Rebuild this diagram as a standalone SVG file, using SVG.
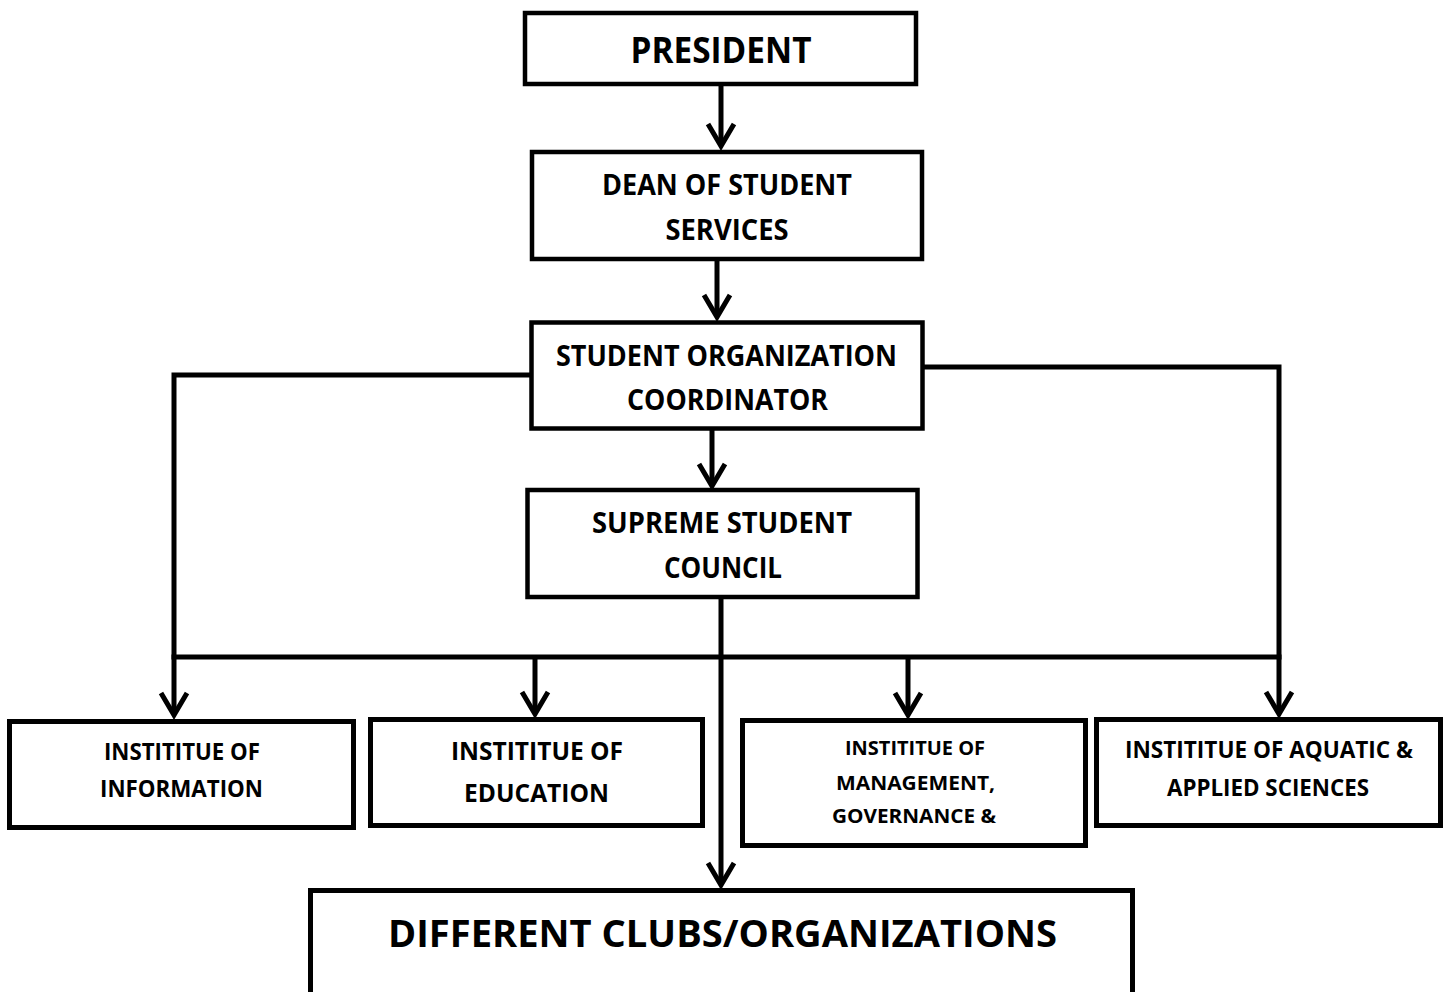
<svg xmlns="http://www.w3.org/2000/svg" width="1448" height="992" viewBox="0 0 1448 992">
<style>
.box{fill:#fff;stroke:#000;stroke-width:4.5}
.ibox{fill:#fff;stroke:#000;stroke-width:5}
.ln{fill:none;stroke:#000;stroke-width:5}
text{font-family:"Open Sans",Lato,"Liberation Sans",sans-serif;font-weight:bold;fill:#000;text-anchor:middle}
</style>
<defs>
<marker id="arr" markerUnits="userSpaceOnUse" orient="auto" refX="0" refY="0" markerWidth="40" markerHeight="40" overflow="visible">
<path d="M-22,-13 L0,0 L-22,13" fill="none" stroke="#000" stroke-width="5" stroke-linejoin="miter"/>
</marker>
</defs>
<rect width="1448" height="992" fill="#fff"/>
<g id="connectors">
<path class="ln" d="M721,86 V146" marker-end="url(#arr)"/>
<path class="ln" d="M717,261 V317" marker-end="url(#arr)"/>
<path class="ln" d="M712,430 V486" marker-end="url(#arr)"/>
<path class="ln" d="M531,375 H174 V715" marker-end="url(#arr)"/>
<path class="ln" d="M923,367 H1279 V714" marker-end="url(#arr)"/>
<path class="ln" d="M171.5,657 H1281.5"/>
<path class="ln" d="M535,657 V714" marker-end="url(#arr)"/>
<path class="ln" d="M908,657 V715" marker-end="url(#arr)"/>
<path class="ln" d="M721,597 V885" marker-end="url(#arr)"/>
</g>
<g id="president">
<rect class="box" x="525" y="13" width="391" height="71"/>
<text x="721" y="63" font-size="36" textLength="181" lengthAdjust="spacingAndGlyphs">PRESIDENT</text>
</g>
<g id="dean">
<rect class="box" x="532" y="152" width="390" height="107"/>
<text x="727" y="195" font-size="28" textLength="250" lengthAdjust="spacingAndGlyphs">DEAN OF STUDENT</text>
<text x="727" y="240" font-size="28" textLength="123" lengthAdjust="spacingAndGlyphs">SERVICES</text>
</g>
<g id="coordinator">
<rect class="box" x="531.5" y="322.5" width="391" height="106"/>
<text x="726.5" y="366" font-size="28" textLength="341" lengthAdjust="spacingAndGlyphs">STUDENT ORGANIZATION</text>
<text x="727.5" y="410" font-size="28" textLength="201" lengthAdjust="spacingAndGlyphs">COORDINATOR</text>
</g>
<g id="council">
<rect class="box" x="527.5" y="490" width="390" height="107"/>
<text x="722" y="533" font-size="28" textLength="260" lengthAdjust="spacingAndGlyphs">SUPREME STUDENT</text>
<text x="723" y="578" font-size="28" textLength="118" lengthAdjust="spacingAndGlyphs">COUNCIL</text>
</g>
<g id="inst-information">
<rect class="ibox" x="9.5" y="721.5" width="344" height="106"/>
<text x="182" y="760" font-size="23" textLength="156" lengthAdjust="spacingAndGlyphs">INSTITITUE OF</text>
<text x="181.5" y="797" font-size="23" textLength="163" lengthAdjust="spacingAndGlyphs">INFORMATION</text>
</g>
<g id="inst-education">
<rect class="ibox" x="370.5" y="719.5" width="332" height="106"/>
<text x="537" y="760" font-size="25.5" textLength="172" lengthAdjust="spacingAndGlyphs">INSTITITUE OF</text>
<text x="536.5" y="802" font-size="25.5" textLength="145" lengthAdjust="spacingAndGlyphs">EDUCATION</text>
</g>
<g id="inst-management">
<rect class="ibox" x="742.5" y="720.5" width="343" height="125"/>
<text x="915" y="755" font-size="19.5" textLength="140" lengthAdjust="spacingAndGlyphs">INSTITITUE OF</text>
<text x="915.5" y="790" font-size="19.5" textLength="159" lengthAdjust="spacingAndGlyphs">MANAGEMENT,</text>
<text x="914" y="823" font-size="19.5" textLength="164" lengthAdjust="spacingAndGlyphs">GOVERNANCE &amp;</text>
</g>
<g id="inst-aquatic">
<rect class="ibox" x="1096.5" y="719.5" width="344" height="106"/>
<text x="1269" y="758" font-size="23" textLength="288" lengthAdjust="spacingAndGlyphs">INSTITITUE OF AQUATIC &amp;</text>
<text x="1268" y="796" font-size="23" textLength="202" lengthAdjust="spacingAndGlyphs">APPLIED SCIENCES</text>
</g>
<g id="clubs">
<rect class="ibox" x="310.5" y="890.5" width="822" height="130"/>
<text x="722.5" y="947" font-size="37" textLength="669" lengthAdjust="spacingAndGlyphs">DIFFERENT CLUBS/ORGANIZATIONS</text>
</g>
</svg>
